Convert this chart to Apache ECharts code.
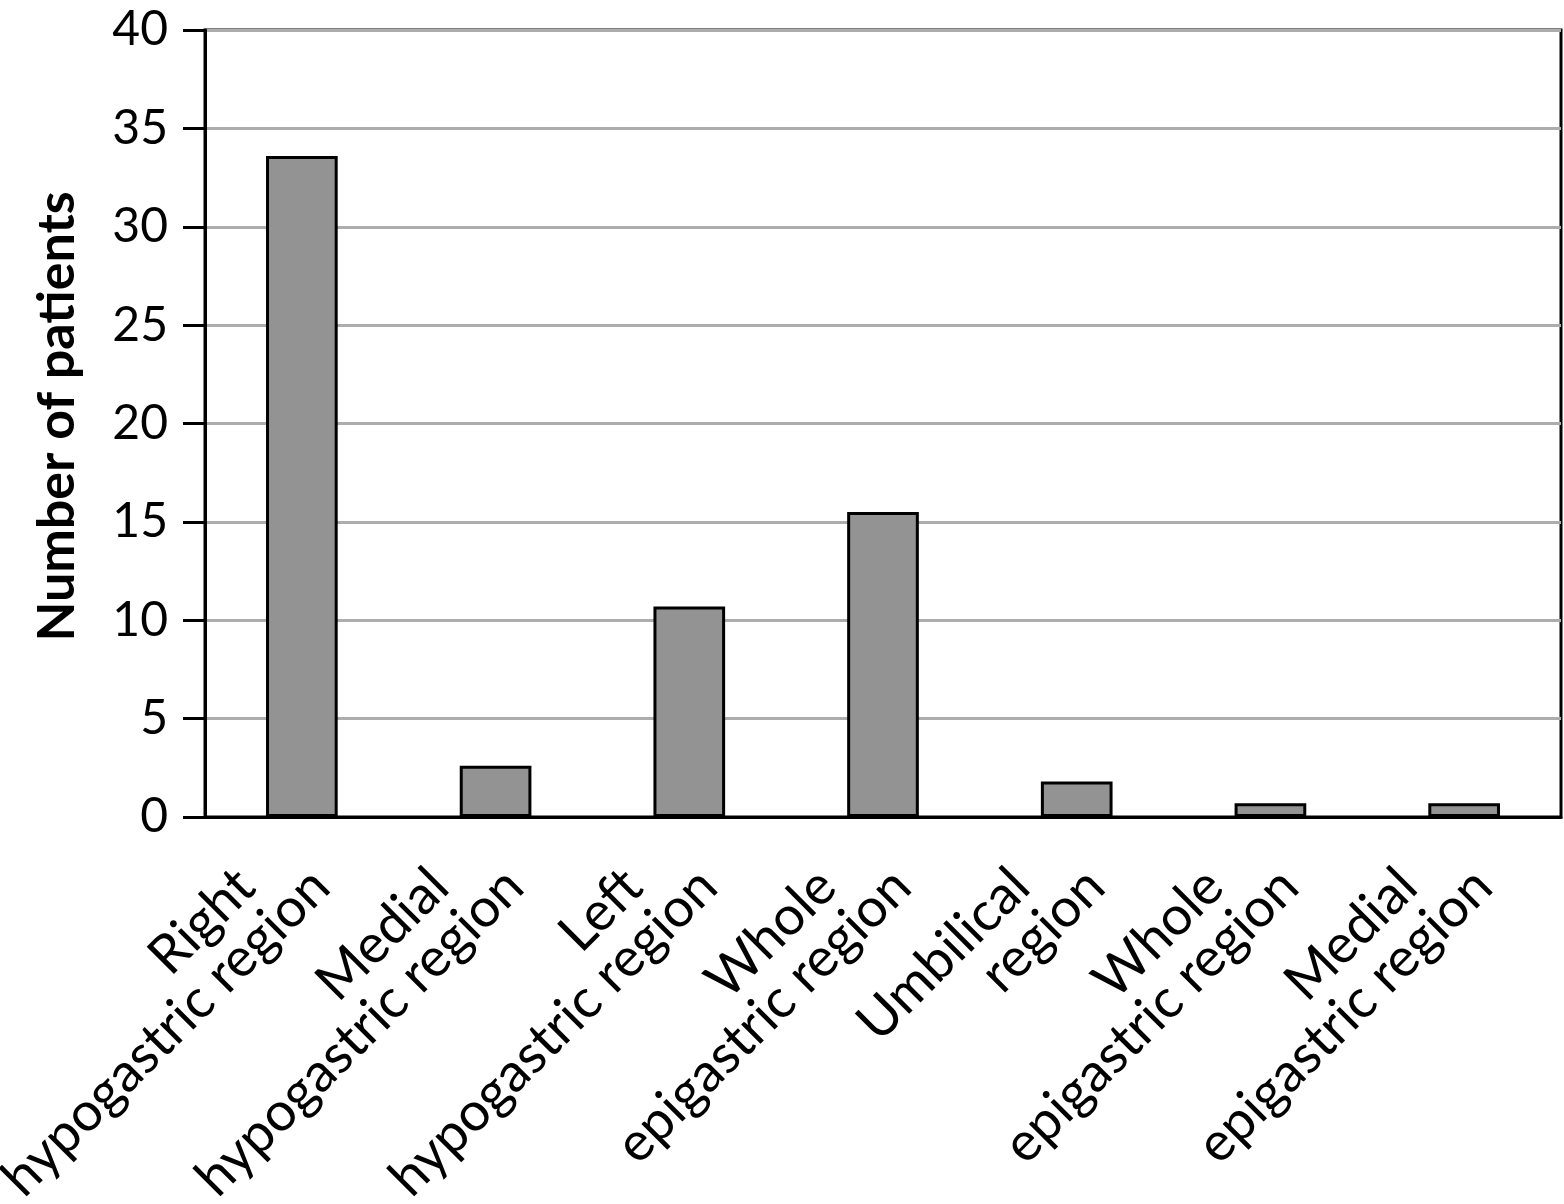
<!DOCTYPE html>
<html>
<head>
<meta charset="utf-8">
<script src="https://cdn.jsdelivr.net/npm/echarts@6/dist/echarts.min.js"></script>
<style>
html,body{margin:0;padding:0;background:#fff;}
#chart{width:1564px;height:1204px;}
</style>
</head>
<body>
<div id="chart"></div>
<script>
const categories = [
  "Right\nhypogastric region",
  "Medial\nhypogastric region",
  "Left\nhypogastric region",
  "Whole\nepigastric region",
  "Umbilical\nregion",
  "Whole\nepigastric region",
  "Medial\nepigastric region"
];
const patients = [33.6, 2.6, 10.7, 15.5, 1.8, 0.7, 0.7];
const yTicks = [0, 5, 10, 15, 20, 25, 30, 35, 40];

const FONT = 'Lato';
const LFS = 54;
const LH = 53;
const chart = echarts.init(document.getElementById('chart'), null, {renderer: 'canvas'});
chart.setOption({
  backgroundColor: '#ffffff',
  animation: false,
  grid: {
    left: 205, right: 3, top: 30, bottom: 387,
    containLabel: false,
    outerBoundsMode: 'none',
    show: true,
    borderColor: '#000',
    borderWidth: 3,
    backgroundColor: 'transparent'
  },
  xAxis: {
    type: 'category',
    data: categories,
    axisLine: {show: true, lineStyle: {color: '#000', width: 3}},
    axisTick: {show: false},
    axisLabel: {
      rotate: 45,
      interval: 0,
      margin: 42,
      color: '#000',
      fontFamily: FONT,
      fontSize: LFS,
      lineHeight: LH,
      formatter: function (v) {
        const parts = v.split('\n');
        return '{a|' + parts[0] + '}\n{b|' + parts[1] + '}';
      },
      rich: {
        a: {fontFamily: FONT, fontSize: LFS, lineHeight: LH, color: '#000', padding: [0, 53, 0, 0]},
        b: {fontFamily: FONT, fontSize: LFS, lineHeight: LH, color: '#000'}
      }
    }
  },
  yAxis: {
    type: 'value',
    min: yTicks[0],
    max: yTicks[yTicks.length - 1],
    interval: 5,
    name: 'Number of patients',
    nameLocation: 'middle',
    nameGap: 122,
    nameTextStyle: {color: '#000', fontFamily: FONT, fontSize: 52, fontWeight: 'bold', padding: [0, 0, 0, 14]},
    axisLine: {show: true, lineStyle: {color: '#000', width: 3}},
    axisTick: {show: true, inside: false, length: 22, lineStyle: {color: '#000', width: 3}},
    axisLabel: {
      margin: 37,
      color: '#000',
      fontFamily: FONT,
      fontSize: 48
    },
    splitLine: {show: true, lineStyle: {color: '#adadad', width: 3}}
  },
  series: [{
    type: 'bar',
    data: patients,
    barWidth: '37%',
    itemStyle: {color: '#939393', borderColor: '#000', borderWidth: 3}
  }]
});
</script>
</body>
</html>
